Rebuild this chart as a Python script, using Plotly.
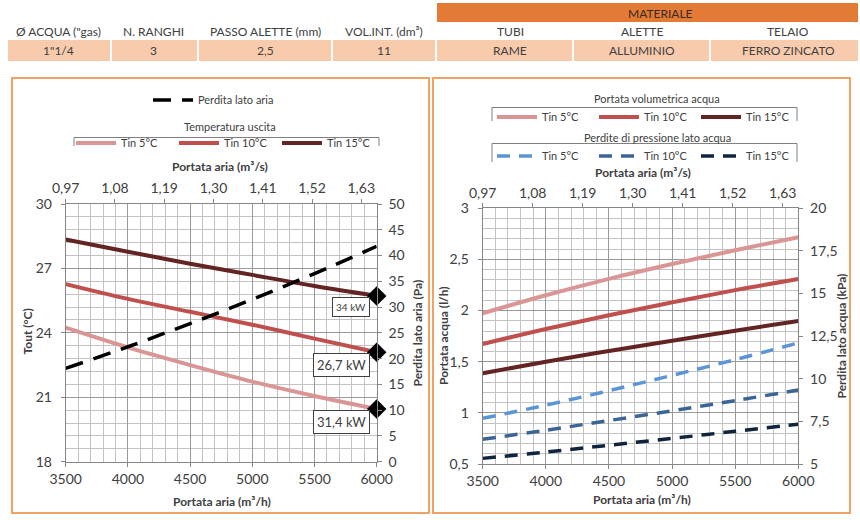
import plotly.graph_objects as go

# ---------------- data ----------------
air_flow = [3500, 4000, 4500, 5000, 5500, 6000]          # m3/h
series_names = ["Tin 5°C", "Tin 10°C", "Tin 15°C"]

tout_tin5 = [24.24, 23.32, 22.50, 21.73, 21.06, 20.45]    # °C
tout_tin10 = [26.27, 25.58, 24.98, 24.38, 23.73, 23.10]
tout_tin15 = [28.35, 27.78, 27.22, 26.70, 26.18, 25.72]
air_dp = [18.1, 22.3, 26.8, 31.5, 36.5, 41.8]             # Pa

water_flow_tin5 = [1.974, 2.15, 2.31, 2.455, 2.59, 2.717]
water_flow_tin10 = [1.673, 1.82, 1.955, 2.08, 2.20, 2.309]
water_flow_tin15 = [1.387, 1.50, 1.605, 1.705, 1.803, 1.898]
water_dp_tin5 = [7.68, 8.45, 9.30, 10.20, 11.12, 12.10]   # kPa
water_dp_tin10 = [6.45, 6.98, 7.55, 8.12, 8.72, 9.34]
water_dp_tin15 = [5.33, 5.70, 6.10, 6.50, 6.92, 7.33]

capacity_labels = ["31,4 kW", "26,7 kW", "34 kW"]
m3s_tick_labels = ["0,97", "1,08", "1,19", "1,30", "1,41", "1,52", "1,63"]
m3s_step = 0.11

header_labels = ["Ø ACQUA (\"gas)", "N. RANGHI", "PASSO ALETTE (mm)", "VOL.INT. (dm³)",
                 "TUBI", "ALETTE", "TELAIO"]
header_values = ["1\"1/4", "3", "2,5", "11", "RAME", "ALLUMINIO", "FERRO ZINCATO"]
material_title = "MATERIALE"

# ---------------- styling ----------------
W, H = 860, 520
FONT = "Lato, 'Open Sans', sans-serif"
TXT = "#404040"
C_SOLID = ["#D99694", "#C0504D", "#632523"]
C_DASH = ["#5B95D5", "#3B6595", "#10243E"]
GRID_MAJ = "#9a9a9a"
GRID_MIN = "#c3c3c3"
AXLINE = "#868686"
ORANGE = "#E37B36"
BEIGE = "#F8CBAD"
BORDER = "#EFA365"


def px(x):
    return x / W


def py(y):
    return 1 - y / H


fig = go.Figure()

x0, x1 = air_flow[0], air_flow[-1]

# left chart
tout = [tout_tin5, tout_tin10, tout_tin15]
for name, ys, col in zip(series_names, tout, C_SOLID):
    fig.add_trace(go.Scatter(x=air_flow, y=ys, name=name, mode="lines",
                             line=dict(color=col, width=4, shape="spline"),
                             xaxis="x", yaxis="y", legend="legend2"))
fig.add_trace(go.Scatter(x=air_flow, y=air_dp, name="Perdita lato aria", mode="lines",
                         line=dict(color="black", width=3.5, dash="18px,11px", shape="spline"),
                         xaxis="x", yaxis="y2", legend="legend"))
fig.add_trace(go.Scatter(x=[air_flow[-1]] * 3, y=[s[-1] for s in tout], mode="markers",
                         marker=dict(symbol="diamond", size=15, color="black"),
                         showlegend=False, cliponaxis=False, xaxis="x", yaxis="y"))
# carrier for the secondary (m3/s) top axis – draws nothing
fig.add_trace(go.Scatter(x=[x0 / 3600, x1 / 3600], y=[None, None], mode="lines",
                         showlegend=False, hoverinfo="skip", xaxis="x3", yaxis="y"))

# right chart
wflow = [water_flow_tin5, water_flow_tin10, water_flow_tin15]
wdp = [water_dp_tin5, water_dp_tin10, water_dp_tin15]
for name, ys, col in zip(series_names, wflow, C_SOLID):
    fig.add_trace(go.Scatter(x=air_flow, y=ys, name=name, mode="lines",
                             line=dict(color=col, width=4, shape="spline"),
                             xaxis="x2", yaxis="y3", legend="legend3"))
for name, ys, col in zip(series_names, wdp, C_DASH):
    fig.add_trace(go.Scatter(x=air_flow, y=ys, name=name, mode="lines",
                             line=dict(color=col, width=3.5, dash="13px,9px", shape="spline"),
                             xaxis="x2", yaxis="y4", legend="legend4"))
fig.add_trace(go.Scatter(x=[x0 / 3600, x1 / 3600], y=[None, None], mode="lines",
                         showlegend=False, hoverinfo="skip", xaxis="x4", yaxis="y3"))

tickfont = dict(family=FONT, size=14, color=TXT)
common = dict(showline=True, linecolor=AXLINE, linewidth=1, ticks="outside", ticklen=4,
              tickcolor=AXLINE, tickfont=tickfont, zeroline=False, automargin=False)

top_vals = [x0 / 3600 + m3s_step * i for i in range(len(m3s_tick_labels))]

LX = [px(65.7), px(376.7)]
LY = [py(461.7), py(204)]
RX = [px(482.7), px(798.3)]
RY = [py(464), py(208.3)]

fig.update_layout(
    xaxis=dict(domain=LX, anchor="y", range=[x0, x1], tick0=x0, dtick=500,
               showgrid=True, gridcolor=GRID_MAJ,
               minor=dict(dtick=100, showgrid=True, gridcolor=GRID_MIN), **common),
    yaxis=dict(domain=LY, anchor="x", range=[18, 30], tick0=18, dtick=3,
               showgrid=True, gridcolor=GRID_MAJ, ticklabelstandoff=6,
               minor=dict(dtick=0.6, showgrid=True, gridcolor=GRID_MIN), **common),
    yaxis2=dict(overlaying="y", anchor="x", side="right", range=[0, 50], dtick=5,
                showgrid=False, ticklabelstandoff=4, **common),
    xaxis3=dict(overlaying="x", anchor="y", side="top", range=[x0 / 3600, x1 / 3600],
                tickvals=top_vals, ticktext=m3s_tick_labels, showgrid=False, **common),
    xaxis2=dict(domain=RX, anchor="y3", range=[x0, x1], tick0=x0, dtick=500,
                showgrid=True, gridcolor=GRID_MAJ,
                minor=dict(dtick=100, showgrid=True, gridcolor=GRID_MIN), **common),
    yaxis3=dict(domain=RY, anchor="x2", range=[0.5, 3], tick0=0.5, dtick=0.5,
                showgrid=True, gridcolor=GRID_MAJ, ticklabelstandoff=6,
                minor=dict(dtick=0.1, showgrid=True, gridcolor=GRID_MIN), **common),
    yaxis4=dict(overlaying="y3", anchor="x2", side="right", range=[5, 20], dtick=2.5,
                showgrid=False, ticklabelstandoff=4, **common),
    xaxis4=dict(overlaying="x2", anchor="y3", side="top", range=[x0 / 3600, x1 / 3600],
                tickvals=top_vals, ticktext=m3s_tick_labels, showgrid=False, **common),
)

legfont = dict(family=FONT, size=11, color=TXT)
legbase = dict(orientation="h", bgcolor="rgba(0,0,0,0)", font=legfont, xanchor="left",
               yanchor="middle", itemwidth=40, tracegroupgap=0,
               itemclick=False, itemdoubleclick=False)
fig.update_layout(
    legend=dict(x=px(148), y=py(100), **legbase),
    legend2=dict(x=px(71), y=py(143), entrywidth=48, **legbase),
    legend3=dict(x=px(492), y=py(117), entrywidth=47, **legbase),
    legend4=dict(x=px(492), y=py(156), entrywidth=47, **legbase),
)

shapes = []
annotations = []


def text(x, y, s, size=11, bold=False, color=TXT, angle=0):
    annotations.append(dict(x=px(x), y=py(y), xref="paper", yref="paper", text=s,
                            showarrow=False, textangle=angle, xanchor="center",
                            yanchor="middle",
                            font=dict(family=FONT, size=size, color=color,
                                      weight="bold" if bold else "normal")))


def rect(xa, ya, xb, yb, fill=None, line=None, lw=0):
    shapes.append(dict(type="rect", xref="paper", yref="paper", x0=px(xa), x1=px(xb),
                       y0=py(yb), y1=py(ya), fillcolor=fill or "rgba(0,0,0,0)",
                       line=dict(color=line or "rgba(0,0,0,0)", width=lw), layer="below"))


def bracket(xa, xb, ytop, ybot):
    shapes.append(dict(type="path", xref="paper", yref="paper",
                       path=f"M {px(xa)},{py(ybot)} L {px(xa)},{py(ytop)} L {px(xb)},{py(ytop)} L {px(xb)},{py(ybot)}",
                       line=dict(color="#7f7f7f", width=1)))


# header table
cells = [(8, 110), (112, 197), (199, 331), (333, 435), (437, 572), (574, 709), (711, 858)]
text_cx = [58, 153, 265, 384, 510, 642, 788]
rect(437, 3, 858, 22, fill=ORANGE)
text(660, 13, material_title, size=12, color="#3a2a1e")
for (a, b), cx, lab, val in zip(cells, text_cx, header_labels, header_values):
    rect(a, 40, b, 61, fill=BEIGE)
    text(cx, 31.5, lab, size=12)
    text(cx, 50.5, val, size=12)

# panel borders
rect(12, 78, 429, 513, line=BORDER, lw=2)
rect(433, 78, 850, 513, line=BORDER, lw=2)

# legend titles and brackets
text(230, 126, "Temperatura uscita", size=11)
bracket(74, 379, 137.5, 146)
text(657, 98.5, "Portata volumetrica acqua", size=11)
bracket(492, 797, 107.5, 121)
text(657, 137.5, "Perdite di pressione lato acqua", size=11)
bracket(492, 797, 143.5, 162)

# axis titles
text(220, 166, "Portata aria (m³/s)", size=12, bold=True)
text(643, 172.5, "Portata aria (m³/s)", size=12, bold=True)
text(221.5, 501.5, "Portata aria (m³/h)", size=12, bold=True)
text(641.5, 499.5, "Portata aria (m³/h)", size=12, bold=True)
text(26.5, 332, "Tout (°C)", size=12, bold=True, angle=-90)
text(416.5, 333, "Perdita lato aria (Pa)", size=12, bold=True, angle=-90)
text(443, 336, "Portata acqua (l/h)", size=12, bold=True, angle=-90)
text(840.5, 336, "Perdita lato acqua (kPa)", size=12, bold=True, angle=-90)

# capacity labels at the curve ends
for i, (lab, ys) in enumerate(zip(capacity_labels, tout)):
    annotations.append(dict(x=air_flow[-1], y=ys[-1], xref="x", yref="y", text=lab,
                            showarrow=False, xanchor="right", yanchor="top",
                            xshift=-7, yshift=-1, bgcolor="white",
                            bordercolor="#404040", borderwidth=1, borderpad=3,
                            font=dict(family=FONT, size=10 if i == 2 else 13, color=TXT)))

fig.update_layout(
    width=W, height=H, margin=dict(l=0, r=0, t=0, b=0, pad=0, autoexpand=False),
    paper_bgcolor="white", plot_bgcolor="white",
    font=dict(family=FONT, color=TXT), separators=", ",
    shapes=shapes, annotations=annotations, hovermode=False,
)

fig.write_html("out.html", config={"displayModeBar": False, "staticPlot": False},
               post_script="document.body.style.margin='0';document.body.style.overflow='hidden';")
